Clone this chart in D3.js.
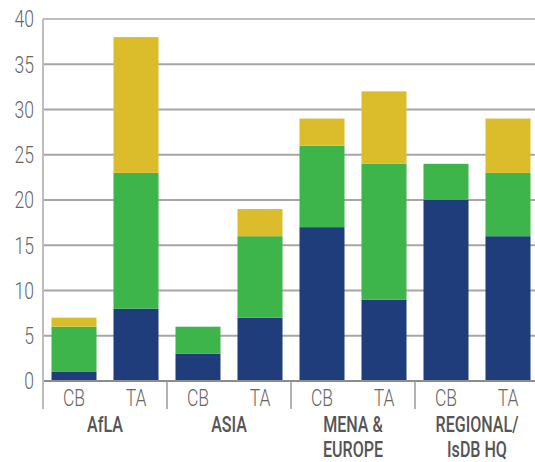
<!DOCTYPE html>
<html><head><meta charset="utf-8">
<script src="https://cdn.jsdelivr.net/npm/d3@7"></script>
<style>body{margin:0;background:#fff}svg{display:block}text{font-family:Roboto,"Liberation Sans",sans-serif}</style>
</head><body><svg id="c" width="535" height="462"></svg>
<script>
const groups = ["AfLA","ASIA","MENA & EUROPE","REGIONAL/ IsDB HQ"];
const groupLines = [["AfLA"],["ASIA"],["MENA &","EUROPE"],["REGIONAL/","IsDB HQ"]];
const subCats = ["CB","TA"];
const seriesNames = ["s1","s2","s3"];
const navy = [1,8,3,7,17,9,20,16];
const green = [5,15,3,9,9,15,4,7];
const yellow = [1,15,0,3,3,8,0,6];
const yTicks = [0,5,10,15,20,25,30,35,40];
const colors = ["#1f3d7a","#3db54a","#dbbc2a"];

const svg = d3.select("#c");
const x0 = 43, x1 = 539, yb = 381, yt = 19;
const SX = 0.73;
const bars = [];
groups.forEach((g,gi)=>subCats.forEach((s,si)=>{const i=gi*2+si;bars.push({key:g+"|"+s,g,s,s1:navy[i],s2:green[i],s3:yellow[i]});}));
const x = d3.scaleBand().domain(bars.map(d=>d.key)).range([x0,x1]).paddingInner(0.274).paddingOuter(0.137);
const y = d3.scaleLinear().domain([0,40]).range([yb,yt]);

// gridlines
svg.append("g").selectAll("line").data(yTicks.filter(t=>t>0)).join("line")
  .attr("x1",x0).attr("x2",535).attr("y1",d=>y(d)).attr("y2",d=>y(d))
  .attr("stroke",d=>d===40?"#bdbdbd":"#a6a6a6").attr("stroke-width",2);

// bars
const stack = d3.stack().keys(seriesNames)(bars);
svg.append("g").selectAll("g").data(stack).join("g").attr("fill",(d,i)=>colors[i])
  .selectAll("rect").data(d=>d).join("rect")
  .attr("x",d=>x(d.data.key)).attr("width",x.bandwidth())
  .attr("y",d=>y(d[1])).attr("height",d=>y(d[0])-y(d[1]));

// baseline and axis
svg.append("line").attr("x1",x0).attr("x2",535).attr("y1",yb).attr("y2",yb).attr("stroke","#8c8c8c").attr("stroke-width",2);
svg.append("line").attr("x1",x0).attr("x2",x0).attr("y1",yt).attr("y2",409).attr("stroke","#bdbdbd").attr("stroke-width",2);
// group separators
const step = x.step();
[1,2,3].forEach(k=>{
  const sx = x0 + k*2*step;
  svg.append("line").attr("x1",sx).attr("x2",sx).attr("y1",yb).attr("y2",409).attr("stroke","#9a9a9a").attr("stroke-width",1.5);
});

// y tick labels
svg.append("g").selectAll("text").data(yTicks).join("text")
  .attr("transform",d=>`translate(34,${y(d)}) scale(${SX},1)`).attr("dy","0.35em").attr("text-anchor","end")
  .attr("fill","#666").attr("font-size",24).attr("font-weight",300).text(d=>d);

// sub labels
svg.append("g").selectAll("text").data(bars).join("text")
  .attr("transform",d=>`translate(${x(d.key)+x.bandwidth()/2},406) scale(${SX},1)`).attr("text-anchor","middle")
  .attr("fill","#666").attr("font-size",24).attr("font-weight",300).text(d=>d.s);

// group labels
groups.forEach((g,gi)=>{
  const cx = x0 + (gi*2+1)*step;
  groupLines[gi].forEach((l,li)=>{
    svg.append("text").attr("transform",`translate(${cx},${432+li*25}) scale(${SX},1)`)
      .attr("text-anchor","middle").attr("fill","#555").attr("font-size",22).attr("font-weight",500).text(l);
  });
});
</script></body></html>
